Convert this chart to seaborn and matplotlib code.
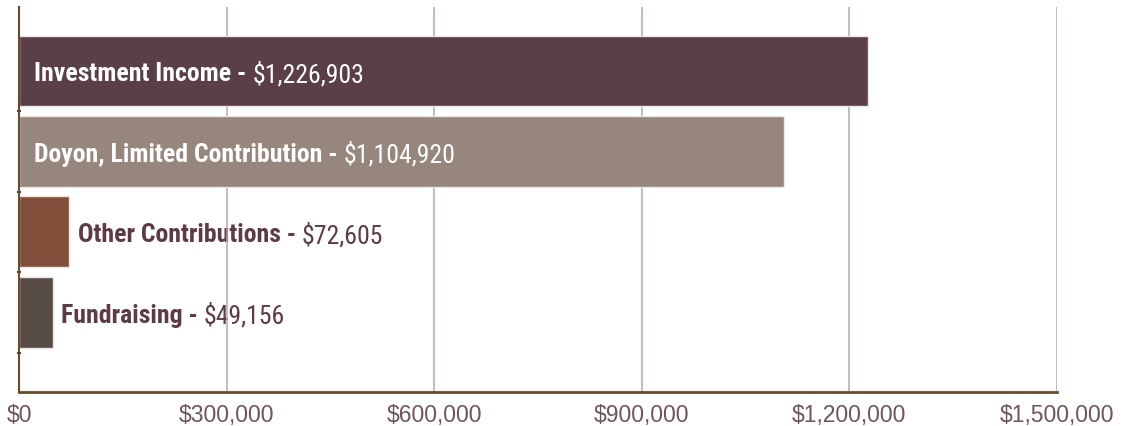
import matplotlib
matplotlib.use("Agg")
import matplotlib.pyplot as plt
import seaborn as sns
import pandas as pd
from matplotlib.ticker import FuncFormatter, FixedLocator

categories = ["Investment Income", "Doyon, Limited Contribution", "Other Contributions", "Fundraising"]
values = [1226903, 1104920, 72605, 49156]
colors = ["#5e3a45", "#9b8578", "#8e4a2e", "#5a4a42"]
xticks = [0, 300000, 600000, 900000, 1200000, 1500000]
inside = [True, True, False, False]

sns.set_style("white")
plt.rcParams["font.family"] = ["Roboto Condensed", "Liberation Sans", "DejaVu Sans"]

df = pd.DataFrame({"category": categories, "value": values})

fig = plt.figure(figsize=(11.23, 4.27), dpi=100)
ax = fig.add_axes([19 / 1123, 1 - 393 / 427, (1057 - 19) / 1123, (393 - 8) / 427])

sns.barplot(data=df, x="value", y="category", hue="category", palette=colors,
            orient="h", width=0.88, dodge=False, legend=False, ax=ax,
            edgecolor="#ece6e6", linewidth=1, zorder=2)

ax.set_xlim(0, 1500000)
ax.set_ylim(3.99, -0.795)
ax.set_xlabel("")
ax.set_ylabel("")
ax.set_yticks([])
ax.yaxis.set_minor_locator(FixedLocator([0.5, 1.5, 2.5, 3.5]))
ax.tick_params(axis="y", which="minor", left=True, length=3, width=1.5, color="#5a3a1a", direction="inout")

ax.set_xticks(xticks)
ax.xaxis.set_major_formatter(FuncFormatter(lambda v, p: f"${v:,.0f}"))
ax.tick_params(axis="x", length=0, pad=8, labelsize=16.5, labelcolor="#6e5361")
for lab in ax.get_xticklabels():
    lab.set_fontfamily(["Liberation Sans", "DejaVu Sans"])
ax.grid(axis="x", color="#b9a6a8", linewidth=1.1, zorder=0)
ax.set_axisbelow(True)

for s in ["top", "right"]:
    ax.spines[s].set_visible(False)
ax.spines["left"].set_color("#6b4a2a")
ax.spines["left"].set_linewidth(1.5)
ax.spines["bottom"].set_color("#6b4a2a")
ax.spines["bottom"].set_linewidth(2)

for i, (cat, val, ins) in enumerate(zip(categories, values, inside)):
    if ins:
        x0, off, col, z = 0, 11, "white", 5
    else:
        x0, off, col, z = val, 6, "#5e3a45", 0.4
    t1 = ax.annotate(cat + " - ", xy=(x0, i), xytext=(off, 0), textcoords="offset points",
                     va="center_baseline", ha="left", fontsize=18.5, fontweight="bold",
                     color=col, zorder=z)
    ax.annotate(f"${val:,}", xy=(1, i), xycoords=(t1, "data"), va="center_baseline",
                ha="left", fontsize=18.5, fontweight="normal", color=col, zorder=z)

fig.savefig("out.png", dpi=100)
